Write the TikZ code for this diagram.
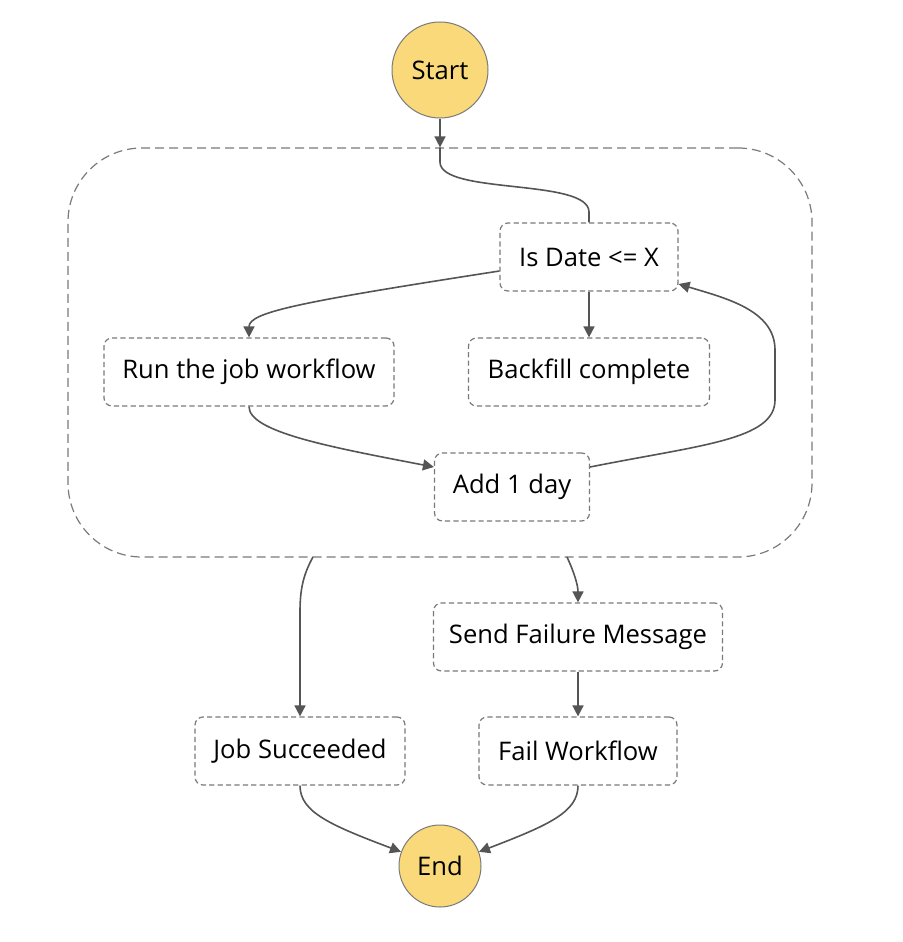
\documentclass[tikz,border=0pt]{standalone}
\usepackage{fontspec}
\setmainfont{Open Sans}
\usepackage{xcolor}
\usetikzlibrary{arrows.meta, positioning}
\definecolor{termfill}{HTML}{F9D97A}
\definecolor{edgegray}{HTML}{555555}
\definecolor{boxgray}{HTML}{7A7A7A}
\tikzset{
  state/.style={draw=boxgray, line width=0.6pt, dash pattern=on 2.6pt off 1.6pt,
    rounded corners=4pt, minimum height=34pt, inner sep=0pt, fill=white,
    font=\fontsize{12.8}{15}\selectfont},
  term/.style={circle, draw=boxgray, line width=0.5pt, fill=termfill, inner sep=0pt,
    font=\fontsize{12.8}{15}\selectfont},
  flow/.style={draw=edgegray, line width=0.8pt, -{Triangle[length=5.5pt,width=5.5pt]}},
  plain/.style={draw=edgegray, line width=0.8pt},
}
\begin{document}
\begin{tikzpicture}[x=0.5pt, y=-0.5pt]
  \useasboundingbox (0,0) rectangle (902,942);
  % the loop around the job
  \node[draw=boxgray, line width=0.6pt, dash pattern=on 4.5pt off 2.5pt,
    rounded corners=37pt, minimum width=372pt, minimum height=204.5pt,
    inner sep=0pt] (map) at (440,352.5) {};
  \coordinate (mapok) at (313,557);
  \coordinate (mapfail) at (567,557);

  \node[term, minimum size=48pt] (start) at (440,70) {Start};
  \node[state, minimum width=89pt] (isdate) at (589,257) {Is Date <= X};
  \node[state, minimum width=145pt] (run) at (249,372) {Run the job workflow};
  \node[state, minimum width=120.5pt] (backfill) at (589,372) {Backfill complete};
  \node[state, minimum width=77.5pt] (addday) at (512,487) {Add 1 day};
  \node[state, minimum width=144.5pt] (notify) at (578,637) {Send Failure Message};
  \node[state, minimum width=105pt] (success) at (300,751) {Job Succeeded};
  \node[state, minimum width=99pt] (fail) at (578,751) {Fail Workflow};
  \node[term, minimum size=41pt] (end) at (440,866) {End};

  \draw[flow] (start) -- (map.north);
  \draw[plain] (map.north) -- (440,162) .. controls (440,195) and (589,178) .. (589,212) -- (isdate.north);
  \draw[flow] ([yshift=-7pt]isdate.west) .. controls (300,302) and (249,312) .. (run.north);
  \draw[flow] (isdate) -- (backfill);
  \draw[flow] (run.south) .. controls (249,432) and (330,447) .. ([yshift=10pt]addday.west);
  \draw[flow] ([yshift=10pt]addday.east) .. controls (700,445) and (775,440) .. (775,400)
    -- (775,350) .. controls (775,310) and (725,298) .. ([yshift=-13.5pt]isdate.east);
  \draw[flow] (mapok) .. controls (303,575) and (300,590) .. (300,612) -- (success.north);
  \draw[flow] (mapfail) .. controls (574,572) and (578,585) .. (notify.north);
  \draw[flow] (notify) -- (fail);
  \draw[flow] (success.south) .. controls (300,812) and (330,825) .. (end.160);
  \draw[flow] (fail.south) .. controls (578,812) and (549,825) .. (end.20);
\end{tikzpicture}
\end{document}
